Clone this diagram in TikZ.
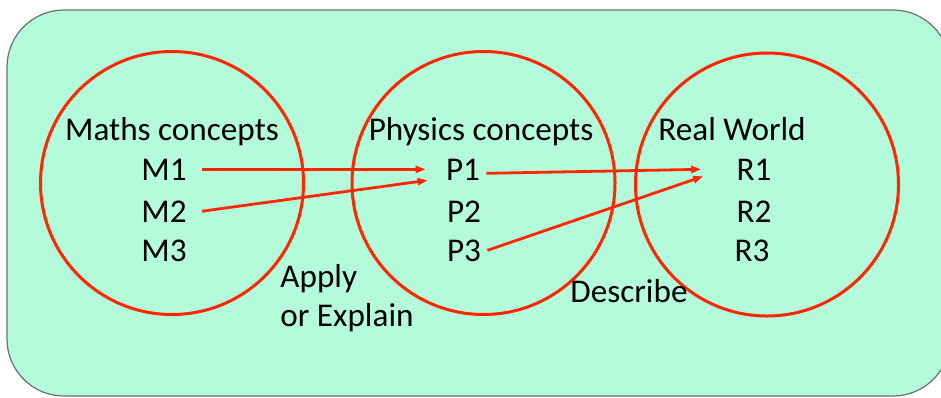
\documentclass[tikz,border=0pt]{standalone}
\usepackage{fontspec}
\setmainfont{Carlito}
\usetikzlibrary{arrows.meta, positioning}
\definecolor{mintbg}{RGB}{179,251,218}
\definecolor{ringred}{RGB}{255,38,0}
\definecolor{edgegray}{RGB}{110,110,110}

\begin{document}
\begin{tikzpicture}[x=0.5pt,y=-0.5pt,
          font=\fontsize{16.6}{19.5}\selectfont,
          ring/.style={circle,draw=ringred,line width=1.5pt,
                       minimum size=131.5pt,inner sep=0pt},
          item/.style={anchor=base,inner xsep=3pt,inner ysep=0pt},
          link/.style={-{Triangle[length=5pt,width=3.5pt]},draw=ringred,line width=1.4pt}]
        \useasboundingbox (0,0) rectangle (941,397);
        \draw[edgegray,fill=mintbg,line width=0.6pt,rounded corners=28.5pt]
          (7,10) rectangle (950,396);
        % the three sets
        \node[ring] (maths) at (172,183) {};
        \node[ring] (phys) at (483.5,183) {};
        \node[ring] (real) at (767,184.5) {};
        \node[anchor=base] (mtitle) at (172,140) {Maths concepts};
        \node[anchor=base] (ptitle) at (481,140) {Physics concepts};
        \node[anchor=base] (rtitle) at (732,140) {Real World};
        \node[item] (m1) at (164,180) {M1};
        \node[item] (m2) at (164,222) {M2};
        \node[item] (m3) at (164,261) {M3};
        \node[item] (p1) at (463,180) {P1};
        \node[item] (p2) at (464,222) {P2};
        \node[item] (p3) at (464,261) {P3};
        \node[item] (r1) at (754,180) {R1};
        \node[item] (r2) at (754,222) {R2};
        \node[item] (r3) at (752,261) {R3};
        \node[anchor=base west,align=left,inner sep=0pt] (apply) at (280,326) {Apply\\or Explain};
        \node[anchor=base west,inner sep=0pt] (describe) at (570,302) {Describe};
        % mappings
        \draw[link] ([xshift=4.5pt]m1.east) -- ([xshift=-7pt]p1.west);
        \draw[link] ([xshift=4.5pt]m2.east) -- ([xshift=-6pt,yshift=-5.5pt]p1.west);
        \draw[link] ([yshift=-2pt]p1.east) -- ([xshift=-14.5pt]r1.west);
        \draw[link] (p3.east) -- ([xshift=-13.5pt,yshift=-3.5pt]r1.west);
      \end{tikzpicture}
\end{document}
